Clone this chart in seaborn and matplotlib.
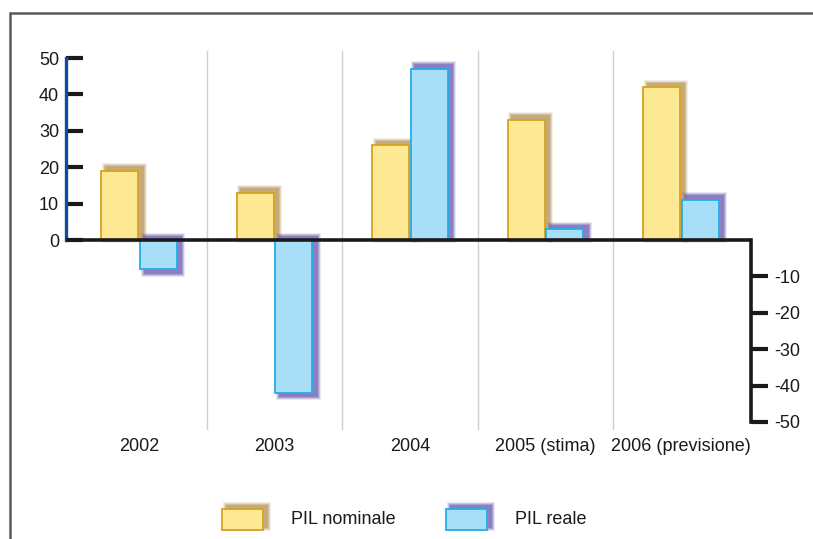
import matplotlib
matplotlib.use("Agg")
import matplotlib.pyplot as plt
import matplotlib.patches as mpatches
import pandas as pd
import seaborn as sns

# data
years = ["2002", "2003", "2004", "2005 (stima)", "2006 (previsione)"]
series = ["PIL nominale", "PIL reale"]
pil_nominale = [19, 13, 26, 33, 42]
pil_reale = [-8, -42, 47, 3, 11]
left_ticks = [0, 10, 20, 30, 40, 50]
right_ticks = [-10, -20, -30, -40, -50]

face = {"PIL nominale": "#fde994", "PIL reale": "#a9def9"}
edge = {"PIL nominale": "#d6a31e", "PIL reale": "#22aee8"}
shade = {"PIL nominale": "#b8955a", "PIL reale": "#6e5fb2"}

df = pd.DataFrame({
    "anno": years * 2,
    "serie": [series[0]] * len(years) + [series[1]] * len(years),
    "valore": pil_nominale + pil_reale,
})

sns.set_theme(style="white")
plt.rcParams["font.family"] = ["Liberation Sans", "DejaVu Sans"]

W, H = 813, 539
fig = plt.figure(figsize=(W / 100, H / 100), dpi=100)

# pixel geometry of the plot area
px_x = 1 / 135.4       # data units per pixel (x)
px_y = 10 / 36.4       # data units per pixel (y)
ax = fig.add_axes([66 / W, 1 - 430 / H, (751 - 66) / W, (430 - 50) / H])
ax.set_facecolor("none")

sns.barplot(data=df, x="anno", y="valore", hue="serie", order=years,
            hue_order=series, palette=face, width=0.57, gap=0.05,
            saturation=1, legend=False, ax=ax, zorder=3)

ax.set_xlim(-73 * px_x, 4 + 70 * px_x)
ax.set_ylim(-190 * px_y, 190 * px_y)


def draw_shadow(target, x0, y_lo, x1, y_hi, color):
    """Soft blurred shadow covering the box x0..x1, y_lo..y_hi."""
    for grow, alpha in [(2.5, 0.15), (1.5, 0.25), (0.5, 0.35), (-0.5, 0.5)]:
        gx, gy = grow * sx, grow * sy
        r = mpatches.Rectangle((x0 - gx, y_lo - gy),
                               (x1 - x0) + 2 * gx, (y_hi - y_lo) + 2 * gy,
                               facecolor=color, edgecolor="none",
                               alpha=alpha, zorder=2)
        target.add_patch(r)


sx, sy = px_x, px_y
for cont, name in zip(ax.containers, series):
    for bar in cont:
        bar.set_edgecolor(edge[name])
        bar.set_linewidth(1.3)
        x0, w = bar.get_x(), bar.get_width()
        top = max(bar.get_y(), bar.get_y() + bar.get_height())
        bottom = min(bar.get_y(), bar.get_y() + bar.get_height())
        if bottom < 0:
            lo = bottom - 5 * px_y
        else:
            lo = 0
        draw_shadow(ax, x0 + 3 * px_x, lo, x0 + w + 6 * px_x,
                    top + 5 * px_y, shade[name])

# category separators and zero line
ax.vlines([0.5, 1.5, 2.5, 3.5], *ax.get_ylim(), color="#d0d0d0", lw=1, zorder=1)
ax.axhline(0, color="#1a1a1a", lw=2.6, zorder=4)

ax.set_xlabel("")
ax.set_ylabel("")
ax.set_xticks(range(len(years)))
ax.set_xticklabels(years)
ax.tick_params(axis="x", length=0, pad=6, labelsize=13, colors="#1a1a1a")

for s in ["top", "bottom", "right"]:
    ax.spines[s].set_visible(False)
ax.spines["left"].set_bounds(0, 50)
ax.spines["left"].set_color("#0a4f9e")
ax.spines["left"].set_linewidth(2.4)
ax.set_yticks(left_ticks)
ax.set_yticklabels([str(t) for t in left_ticks])
ax.tick_params(axis="y", left=True, direction="in", length=12, width=3,
               color="#1a1a1a", labelsize=13, pad=5, labelcolor="#1a1a1a")

ax2 = ax.twinx()
ax2.set_ylim(ax.get_ylim())
for s in ["top", "bottom", "left"]:
    ax2.spines[s].set_visible(False)
ax2.spines["right"].set_bounds(-50, 0)
ax2.spines["right"].set_color("#1a1a1a")
ax2.spines["right"].set_linewidth(2.6)
ax2.set_yticks(right_ticks)
ax2.set_yticklabels([str(t) for t in right_ticks])
ax2.tick_params(axis="y", right=True, direction="out", length=12, width=3,
                color="#1a1a1a", labelsize=13, pad=5, labelcolor="#1a1a1a")
ax2.grid(False)

# frame and legend in pixel coordinates
ov = fig.add_axes([0, 0, 1, 1])
ov.set_xlim(0, W)
ov.set_ylim(H, 0)
ov.axis("off")
ov.set_facecolor("none")
ov.plot([10, W], [13, 13], color="#5a5a5a", lw=1.8)
ov.plot([10, 10], [13, H], color="#5a5a5a", lw=1.8)

sx, sy = 1, 1
for name, bx, tx in [(series[0], 222, 291), (series[1], 446, 515)]:
    draw_shadow(ov, bx + 3, 504, bx + 46, 528, shade[name])
    ov.add_patch(mpatches.Rectangle((bx, 509), 41, 21, facecolor=face[name],
                                    edgecolor=edge[name], lw=1.3, zorder=3))
    ov.text(tx, 520, name, fontsize=13, va="center", ha="left",
            color="#1a1a1a")

fig.savefig("out.png", dpi=100)
